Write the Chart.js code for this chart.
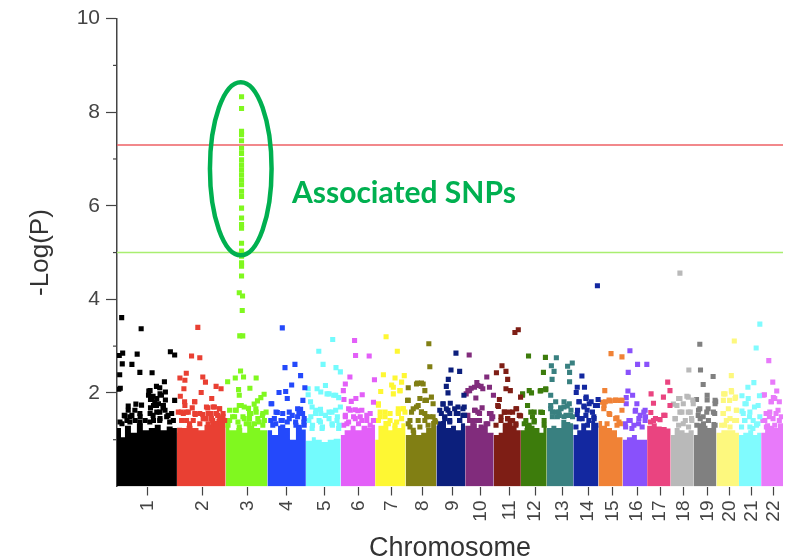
<!DOCTYPE html>
<html>
<head>
<meta charset="utf-8">
<title>Manhattan plot</title>
<script src="https://cdn.jsdelivr.net/npm/chart.js@4/dist/chart.umd.min.js"></script>
<style>
	html, body { margin: 0; padding: 0; background: #fff; }
	canvas { display: block; }
</style>
</head>
<body>
<canvas id="manhattan" width="787" height="560"></canvas>
<script>
// chromosome names, tick positions along the genome axis and colours
const chrNames = ['1','2','3','4','5','6','7','8','9','10','11','12','13','14','15','16','17','18','19','20','21','22']
const chrTicks = [30.7,86.3,131.3,171,209,243.3,276.3,307.3,337.3,366,395,420.7,448,474,498.7,523.3,546.3,570.3,594.3,616.3,638.7,660.7]
const chrColors = ['#000000','#e94033','#80f81f','#2449fb','#73fbfd','#e35ff8','#fef733','#817f14','#0c1f7c','#812c7c','#7e1e15','#3d7c0c','#398080','#1328a0','#f08236','#8951fb','#ea4480','#b9b9b9','#808080','#fdf87e','#80fbfe','#e87afa']

const yTicks = [2,4,6,8,10]
const yMinorTicks = [1,3,5,7,9]
const genomeWideLine = 7.3
const suggestiveLine = 5

// top edge of the dense mass of SNPs on each chromosome
const body1 = [[0,1.25],[4,1.05],[8,1.3],[14,1.15],[20,1.35],[26,1.2],[32,1.25],[38,1.32],[44,1.2],[50,1.28],[56,1.25],[60.3,1.25]]
const body2 = [[60.3,1.15],[64,1.25],[70,1.3],[76,1.25],[82,1.2],[88,1.32],[94,1.4],[100,1.45],[105,1.55],[109.3,1.4]]
const body3 = [[109.3,1.3],[113,1.2],[120,1.25],[126,1.15],[131,1.3],[138,1.25],[144,1.2],[151.3,1.1]]
const body4 = [[151.3,1.2],[156,1.1],[162,1.3],[168,1.25],[174,1.0],[180,1.32],[186,1.22],[190,1.25]]
const body5 = [[190,0.98],[196,1.05],[200,1.0],[206,0.95],[212,1.0],[218,1.02],[225,1.0]]
const body6 = [[225,1.1],[229,1.2],[235,1.3],[240,1.2],[246,1.3],[252,1.25],[256,1.32],[259.7,1.25]]
const body7 = [[259.7,1.0],[263,1.3],[268,1.4],[273,1.2],[277,1.3],[282,1.25],[286,1.35],[290.3,1.2]]
const body8 = [[290.3,1.1],[296,1.2],[301,1.1],[306,1.15],[311,1.25],[316,1.4],[321.3,1.2]]
const body9 = [[321.3,1.3],[326,1.4],[331,1.25],[336,1.3],[341,1.2],[346,1.35],[350.3,1.3]]
const body10 = [[350.3,1.3],[356,1.35],[362,1.25],[368,1.3],[373,1.15],[379,1.0]]
const body11 = [[379,1.1],[384,1.15],[388,1.35],[393,1.45],[398,1.3],[402,1.2],[406.3,1.1]]
const body12 = [[406.3,1.2],[410,1.25],[415,1.3],[420,1.25],[425,1.15],[429,1.3],[432.3,1.3]]
const body13 = [[432.3,1.25],[437,1.3],[442,1.25],[447,1.42],[452,1.38],[456,1.35],[459,1.25]]
const body14 = [[459,1.1],[463,1.2],[467,1.35],[472,1.2],[477,1.4],[481,1.3],[484.3,1.35]]
const body15 = [[484.3,1.4],[488,1.3],[493,1.25],[498,1.2],[503,1.05],[508.7,0.98]]
const body16 = [[508.7,1.0],[513,1.05],[518,1.1],[523,1.0],[528,1.0],[533.3,1.12]]
const body17 = [[533.3,1.3],[538,1.35],[543,1.28],[548,1.27],[553,1.24],[557,1.2]]
const body18 = [[557,1.1],[561,1.25],[566,1.2],[571,1.15],[575,1.2],[580.3,1.1]]
const body19 = [[580.3,1.1],[584,1.35],[589,1.3],[594,1.25],[598,1.38],[603,1.15]]
const body20 = [[603,1.15],[608,1.2],[613,1.2],[618,1.2],[622,1.15],[625.7,1.1]]
const body21 = [[625.7,1.1],[630,1.15],[635,1.2],[640,1.1],[644,1.15],[648,1.1]]
const body22 = [[648,1.15],[652,1.35],[657,1.3],[661,1.25],[665,1.35],[670,1.1]]

// individual SNPs above the mass, [genome position, -log10(p)]
const snps1 = [[4.7,3.61],[24.3,3.37],[5.7,2.85],[2.3,2.8],[20.3,2.83],[5.3,2.62],[15,2.61],[2.7,2.39],[23,2.44],[35.3,2.43],[3.3,2.1],[1.8,2.08],[53.7,2.88],[58,2.81],[47.7,2.24],[39.7,2.14],[43,2.11],[32,2.04],[48.7,2.02],[36.3,1.93],[44.7,1.95],[58,1.84],[33.7,1.86],[38,1.8],[48.7,1.85],[11.3,1.72],[19,1.76],[24.7,1.74],[11.3,1.63],[18,1.63],[33.7,1.68],[39.7,1.73],[46.3,1.68],[8,1.51],[13,1.49],[23,1.56],[36.3,1.52],[43,1.59],[51.3,1.52],[3,1.38],[13,1.38],[23,1.38],[33,1.38],[43,1.41],[53,1.38],[7.3,1.52],[15,1.52],[23.3,1.49],[33.3,1.56],[40,1.59],[48.3,1.63],[55,1.56],[36.7,1.73],[41.7,1.77],[46.7,1.73],[31.7,1.95],[35,1.88],[40,1.88],[43.3,1.98],[33.3,2.05],[50,1.49],[28.3,1.41],[18.3,1.41],[10,1.41],[5,1.34],[43.3,1.45],[36.7,1.41],[56.7,1.41]]
const snps2 = [[81.3,3.4],[75,2.79],[83.3,2.75],[69.7,2.42],[63.3,2.32],[68.3,2.27],[86.3,2.34],[89,2.23],[67.3,2.09],[84.7,2.01],[99.7,2.14],[104.7,2.09],[63.7,1.93],[95.3,1.88],[78,1.81],[68,1.81],[75.7,1.68],[64.7,1.59],[69.7,1.59],[78.7,1.54],[86.3,1.54],[91.3,1.68],[98,1.7],[103,1.66],[94.7,1.56],[106.3,1.49],[101.3,1.52],[89.7,1.45],[96.3,1.41],[73,1.34],[63,1.2],[90,1.7],[96.7,1.7],[103.3,1.66],[83.3,1.56],[91.7,1.56],[100,1.56],[106.7,1.56],[78.3,1.56],[86.7,1.45],[95,1.45],[103.3,1.45],[108.3,1.41],[70,1.41],[76.7,1.41],[83.3,1.34],[91.7,1.34],[100,1.34],[65,1.41],[68.3,1.73],[71.7,1.59],[61.7,1.59],[66.7,1.56],[78.3,1.81]]
const snps3 = [[125.3,8.33],[125.3,8.08],[125.3,7.59],[125.3,7.52],[125.3,7.39],[125.3,7.23],[125.3,7.12],[125.3,6.98],[125.3,6.87],[125.3,6.77],[125.3,6.66],[125.3,6.55],[125.3,6.45],[125.3,6.31],[125.3,6.2],[125.3,5.95],[125.3,5.74],[125.3,5.6],[125.3,5.52],[125.3,5.2],[125.3,5.03],[125.3,4.92],[125.3,4.78],[125.3,4.71],[125.3,4.5],[123,4.14],[126.3,4.07],[126,3.76],[123.5,3.22],[126.5,3.22],[124.3,2.47],[111.3,2.24],[119,2.32],[127.3,2.34],[140,2.32],[122.3,2.07],[133.7,2.1],[123,1.95],[148,1.97],[144.7,1.9],[141.3,1.83],[138,1.76],[123,1.73],[128,1.7],[132.3,1.67],[119,1.63],[146.3,1.52],[150,1.59],[134.7,1.56],[139.7,1.66],[116.3,1.49],[128,1.45],[113,1.41],[143,1.38],[133,1.34],[123,1.27],[113.3,1.63],[125,1.73],[133.3,1.56],[140,1.59],[146.7,1.56],[120,1.63],[118.3,1.49],[126.7,1.49],[133.3,1.45],[141.7,1.45],[148.3,1.41],[113.3,1.41],[121.7,1.38],[130,1.34],[138.3,1.34],[146.7,1.31],[111.7,1.31]]
const snps4 = [[166.3,3.39],[169,2.54],[179,2.61],[184.7,2.37],[175.7,2.17],[163,2.01],[169.7,2.03],[171.3,1.88],[189,2.11],[187,1.84],[155.7,1.77],[184.7,1.65],[161.3,1.58],[176.3,1.52],[183,1.56],[154.7,1.41],[166.3,1.41],[171.3,1.38],[188,1.38],[159.7,1.34],[179.7,1.38],[160,1.59],[166.7,1.56],[173.3,1.59],[181.7,1.66],[186.7,1.56],[158.3,1.45],[165,1.41],[173.3,1.45],[181.7,1.49],[188.3,1.45],[156.7,1.31],[166.7,1.27],[180,1.31],[188.3,1.31],[155,1.77]]
const snps5 = [[217,3.14],[203,2.89],[207.3,2.61],[220.3,2.54],[224.7,2.45],[209.7,2.16],[201.3,2.09],[192.3,2.09],[192.3,1.96],[211.3,1.98],[218,1.95],[223,1.9],[194.7,1.81],[196.3,1.7],[224.7,1.7],[204.7,1.65],[216.3,1.59],[199.7,1.56],[209.7,1.52],[193,1.41],[221.3,1.41],[204.7,1.38],[216.3,1.34],[196.3,1.24],[223,1.24],[206.3,1.24],[200,1.63],[205,1.56],[213.3,1.59],[220,1.63],[195,1.49],[203.3,1.41],[213.3,1.45],[221.7,1.49],[196.7,1.31],[206.7,1.27],[216.7,1.31],[223.3,1.31],[213.3,1.98],[220,1.95],[205,2.02]]
const snps6 = [[239,3.12],[240,2.8],[253.7,2.79],[234.3,2.34],[259,2.28],[229.7,2.19],[227.7,2.05],[246.7,1.96],[228.3,1.86],[240.3,1.88],[235.7,1.82],[258,1.8],[234.7,1.63],[242.3,1.62],[251.3,1.52],[229.7,1.49],[239.7,1.45],[246.3,1.41],[258,1.41],[231.3,1.34],[233,1.66],[239.7,1.64],[246.3,1.63],[229.7,1.52],[238,1.49],[244.7,1.49],[254.7,1.56],[258,1.41],[251.3,1.41],[233,1.38],[243,1.34],[254.7,1.31],[228,1.31]]
const snps7 = [[270.7,3.2],[282,2.89],[268,2.39],[265.3,2.03],[279.7,2.32],[276.3,2.17],[289,2.37],[286.3,2.23],[284.7,2.05],[278,1.98],[288,1.66],[283,1.59],[274.7,1.56],[263,1.74],[269.7,1.59],[274.7,1.41],[264.7,1.49],[281.3,1.38],[263,1.77],[264.7,1.59],[269.7,1.49],[283,1.66],[288,1.66],[283,1.56],[289.7,1.59],[263,1.41],[273,1.34],[286.3,1.45],[279.7,1.31],[278,2.12],[284.7,2.05]]
const snps8 = [[313.7,3.05],[314.7,2.56],[306.3,2.21],[302.3,2.21],[309.7,2.05],[293,2.11],[292.3,1.84],[316.3,1.91],[309.7,1.84],[301.3,1.7],[306.3,1.59],[296.3,1.59],[314.7,1.49],[309.7,1.56],[319.7,1.41],[293,1.34],[309.7,1.41],[298,1.2],[304.7,1.27],[298,1.66],[306.3,1.59],[303,1.73],[311.3,1.49],[318,1.49],[294.7,1.41],[303,1.41],[320.5,1.38],[294.7,1.27],[313,1.31],[293,1.84],[304.7,1.88],[311.3,1.84],[318,1.77],[301.3,2.19],[308,2.19]]
const snps9 = [[341,2.85],[336,2.49],[344.7,2.46],[333.3,2.29],[331.3,2.14],[333,2],[349,1.95],[349.3,1.7],[335.3,1.78],[328,1.76],[343,1.7],[333,1.63],[324.7,1.63],[341.3,1.56],[348,1.52],[329.7,1.49],[344.7,1.41],[334.7,1.41],[328,1.77],[331.3,1.66],[339.7,1.66],[348,1.66],[326.3,1.56],[334.7,1.56],[343,1.56],[349.7,1.52],[324.7,1.34],[334.7,1.38],[344.7,1.41],[329.7,1.45]]
const snps10 = [[354.3,2.81],[372,2.34],[362,2.22],[356.3,2.1],[366.3,2.14],[374.7,2.12],[353,2.05],[378.7,1.95],[361,1.89],[367.3,1.68],[360.3,1.63],[353,1.52],[376.3,1.56],[364.7,1.56],[377,1.45],[359.7,1.41],[373,1.34],[363,1.59],[359.7,1.63],[374.7,1.56],[378,1.49],[354.7,1.41],[364.7,1.41],[371.3,1.34],[358,1.31],[366.3,1.27],[363,2.16],[368,2.09],[359.7,2.12],[354.7,2.05],[351.3,1.98]]
const snps11 = [[403.7,3.35],[400.3,3.29],[387.3,2.58],[381.7,2.43],[391.3,2.46],[393,2.29],[391.3,2.09],[395.7,2.05],[406,1.91],[384.7,1.86],[383.7,1.71],[402,1.66],[389.7,1.59],[398,1.59],[406,1.51],[386.3,1.49],[393,1.45],[381.3,1.31],[401.3,1.34],[383,1.73],[394.7,1.59],[401.3,1.66],[389.7,1.59],[393,1.45],[404.7,1.52],[386.3,1.41],[398,1.41],[391.3,1.31],[401.3,1.31]]
const snps12 = [[414,2.79],[429,2.44],[431,2.76],[408,1.95],[417,2],[425.7,2.04],[431.3,2.07],[413,1.73],[419.7,1.59],[428,1.58],[418,1.49],[409.7,1.34],[419.7,1.38],[429.7,1.41],[413,1.29],[416.3,1.59],[426.3,1.59],[411.3,1.41],[419.7,1.41],[429.7,1.31],[414.7,1.31],[414.7,2.05],[408,1.98],[426.3,2.05],[431.3,2.09]]
const snps13 = [[442,2.75],[437,2.58],[439.7,2.46],[437.7,2.29],[458,2.64],[453.3,2.57],[455.3,2.44],[455.3,2.24],[436.3,1.95],[449.7,1.81],[441.3,1.81],[436.3,1.73],[446.3,1.68],[453,1.72],[438,1.59],[456.3,1.52],[443,1.49],[449.7,1.49],[455,1.77],[446.7,1.66],[456.7,1.63],[441.7,1.59],[451.7,1.52],[445,1.52],[458.3,1.49],[436.3,1.66],[444.7,1.59],[449.7,1.7],[438,1.49]]
const snps14 = [[483.3,4.29],[467.7,2.36],[463,2.12],[470.3,2.12],[462,2.01],[472,1.91],[484,1.86],[464.7,1.81],[477,1.81],[469.7,1.72],[481.3,1.73],[463,1.54],[473,1.63],[468,1.45],[479.7,1.49],[474.7,1.41],[465,1.81],[471.7,1.88],[475,1.77],[483.3,1.73],[463.3,1.63],[470,1.7],[478.3,1.59],[471.7,1.52],[465,1.45],[480,1.45],[461.7,1.27],[473.3,1.31],[481.7,1.31]]
const snps15 = [[497,2.84],[508,2.77],[490.7,2.05],[501.3,1.84],[506.3,1.84],[496.3,1.83],[491.3,1.81],[508,1.84],[489.7,1.66],[508,1.63],[495.7,1.54],[503,1.47],[506.3,1.34],[493,1.34],[490,1.73],[488.3,1.8],[495,1.56],[501.7,1.45],[505,1.38],[503,1.31],[495,1.85],[501.7,1.85]]
const snps16 = [[516,2.9],[523.7,2.61],[533,2.61],[514.3,2.44],[514,2.04],[518.7,1.95],[512.3,1.9],[523,1.77],[512.3,1.77],[521.3,1.61],[531.3,1.63],[526.3,1.52],[516.3,1.41],[511.3,1.34],[524.7,1.34],[531.3,1.41],[518,1.24],[521.7,1.63],[530,1.59],[515,1.41],[525,1.45],[531.7,1.49],[520,1.31],[528.3,1.27],[511.7,1.27]]
const snps17 = [[554,2.23],[537.3,1.98],[556.3,2.05],[549.7,1.91],[539.7,1.78],[556.3,1.73],[537,1.58],[551.3,1.52],[539.7,1.41],[546.3,1.43],[536.7,1.38],[541.7,1.45],[550,1.52]]
const snps18 = [[566.3,4.56],[575.3,2.49],[574.7,1.91],[566.3,1.88],[559.7,1.76],[569.7,1.77],[579.7,1.77],[566.3,1.59],[574.7,1.59],[561.3,1.45],[578,1.45],[569.7,1.34],[563.3,1.73],[568.3,1.59],[576.7,1.59],[561.7,1.45],[571.7,1.41],[578.3,1.41],[565,1.88],[573.3,1.93],[579.3,1.85],[565,1.31],[575,1.27]]
const snps19 = [[586.3,3.04],[587,2.49],[599.7,2.35],[589.7,2.18],[593.7,1.95],[593.7,1.85],[602.3,1.81],[583,1.86],[586.3,1.66],[594.7,1.66],[584.7,1.52],[601.3,1.56],[589.7,1.49],[585,1.63],[593.3,1.59],[600,1.59],[586.7,1.45],[595,1.41],[583.3,1.31],[590,1.34],[601.7,1.31],[601.7,1.84],[601.7,1.77]]
const snps20 = [[621,3.11],[618,2.37],[618,2.05],[610.3,1.98],[622.3,1.91],[616.3,1.84],[609.7,1.56],[623,1.63],[613,1.41],[621.3,1.41],[611.3,1.31],[611.7,1.98],[618.3,2.02],[610,1.84],[621.7,1.88],[615,1.66],[623.3,1.63],[610,1.56],[616.7,1.45],[623.3,1.41],[608.3,1.31],[616.7,1.27]]
const snps21 = [[646.7,3.47],[643,2.96],[640.7,2.22],[634.7,2.12],[628.7,1.94],[646.3,1.94],[633,1.77],[628.7,1.61],[641.3,1.7],[636.3,1.49],[631.3,1.41],[644.7,1.34],[639.7,1.24],[635,1.88],[631.7,1.77],[645,1.73],[630,1.56],[636.7,1.59],[631.7,1.41],[640,1.41],[646.7,1.49],[628.3,1.27],[636.7,1.27],[643.3,1.31]]
const snps22 = [[655.7,2.69],[659.7,2.23],[663.7,2.04],[651.3,1.96],[660.3,1.9],[658,1.81],[666.3,1.81],[653,1.56],[663,1.56],[649.7,1.41],[656.3,1.49],[666.3,1.41],[651.7,1.41],[660,1.45],[668.3,1.49],[656.7,1.59],[665,1.63],[653.3,1.27],[661.7,1.31],[668.3,1.27],[658.3,1.81],[661.7,1.88],[650,1.95]]

const bodies = [body1,body2,body3,body4,body5,body6,body7,body8,body9,body10,body11,body12,body13,body14,body15,body16,body17,body18,body19,body20,body21,body22]
const snps = [snps1,snps2,snps3,snps4,snps5,snps6,snps7,snps8,snps9,snps10,snps11,snps12,snps13,snps14,snps15,snps16,snps17,snps18,snps19,snps20,snps21,snps22]

const toPoints = (rows) => rows.map((row) => ({ x: row[0], y: row[1] }))

// callout around the associated SNPs, in axis units
const callout = { x: 124.5, y: 6.79, rx: 31, ry: 1.85, labelX: 176, labelY: 6.27, label: 'Associated SNPs', color: '#00b050' }

const datasets = []
bodies.forEach((body, i) => {
	datasets.push({
		data: toPoints(body),
		showLine: true,
		stepped: true,
		fill: 'origin',
		borderWidth: 0,
		backgroundColor: chrColors[i],
		pointRadius: 0,
		order: 2,
	})
	datasets.push({
		data: toPoints(snps[i]),
		pointStyle: 'rect',
		pointRadius: 3.6,
		borderWidth: 0,
		backgroundColor: chrColors[i],
		order: 1,
	})
})
datasets.push({
	data: toPoints([[0,genomeWideLine],[670,genomeWideLine]]),
	showLine: true,
	borderColor: '#ee6065',
	borderWidth: 1.6,
	pointRadius: 0,
	order: 3,
})
datasets.push({
	data: toPoints([[0,suggestiveLine],[670,suggestiveLine]]),
	showLine: true,
	borderColor: '#a9ee70',
	borderWidth: 1.6,
	pointRadius: 0,
	order: 3,
})

// short unlabelled ticks on the y axis, the ellipse and its label
const overlayPlugin = {
	id: 'overlay',
	afterDraw(chart) {
		const { ctx, scales } = chart
		const x = scales.x
		const y = scales.y
		ctx.save()
		ctx.strokeStyle = '#444'
		ctx.lineWidth = 1.2
		yMinorTicks.forEach((v) => {
			ctx.beginPath()
			ctx.moveTo(x.left - 4, y.getPixelForValue(v))
			ctx.lineTo(x.left, y.getPixelForValue(v))
			ctx.stroke()
		})
		const cx = x.getPixelForValue(callout.x)
		const cy = y.getPixelForValue(callout.y)
		const rx = x.getPixelForValue(callout.x + callout.rx) - cx
		const ry = cy - y.getPixelForValue(callout.y + callout.ry)
		ctx.strokeStyle = callout.color
		ctx.lineWidth = 4.5
		ctx.beginPath()
		ctx.ellipse(cx, cy, rx, ry, 0, 0, Math.PI * 2)
		ctx.stroke()
		ctx.fillStyle = callout.color
		ctx.font = 'bold 30px Lato'
		ctx.textBaseline = 'middle'
		ctx.fillText(callout.label, x.getPixelForValue(callout.labelX), y.getPixelForValue(callout.labelY))
		ctx.restore()
	},
}

new Chart(document.getElementById('manhattan'), {
	type: 'scatter',
	data: { datasets },
	plugins: [overlayPlugin],
	options: {
		responsive: false,
		animation: false,
		layout: { padding: { top: 16.5, right: 0, bottom: 0, left: 0 } },
		plugins: { legend: { display: false }, tooltip: { enabled: false } },
		scales: {
			x: {
				type: 'linear',
				min: 0,
				max: 670,
				afterBuildTicks(scale) {
					scale.ticks = chrTicks.map((value) => ({ value }))
				},
				afterFit(scale) {
					scale.height = 73.5
				},
				// the rotated last label must not pull the plot area off the right edge
				afterUpdate(scale) {
					scale.paddingLeft = 0
					scale.paddingRight = 0
				},
				border: { display: false },
				grid: { drawOnChartArea: false, tickLength: 9, tickColor: '#444', tickWidth: 1.2 },
				ticks: {
					autoSkip: false,
					minRotation: 90,
					maxRotation: 90,
					padding: 5,
					color: '#444',
					font: { family: 'Liberation Sans', size: 19 },
					callback: (value, index) => chrNames[index],
				},
				title: {
					display: true,
					text: 'Chromosome',
					color: '#333',
					font: { family: 'Liberation Sans', size: 27 },
					padding: { top: 0, bottom: -5 },
				},
			},
			y: {
				min: 0,
				max: 10,
				afterBuildTicks(scale) {
					scale.ticks = yTicks.map((value) => ({ value }))
				},
				afterFit(scale) {
					scale.width = 117
				},
				border: { display: true, color: '#444', width: 1.5 },
				grid: { drawOnChartArea: false, tickLength: 11, tickColor: '#444', tickWidth: 1.2 },
				ticks: {
					padding: 6,
					color: '#444',
					font: { family: 'Liberation Sans', size: 21 },
				},
				title: {
					display: true,
					text: '-Log(P)',
					color: '#333',
					font: { family: 'Liberation Sans', size: 26 },
					padding: { top: 25, bottom: 0 },
				},
			},
		},
	},
})
</script>
</body>
</html>
